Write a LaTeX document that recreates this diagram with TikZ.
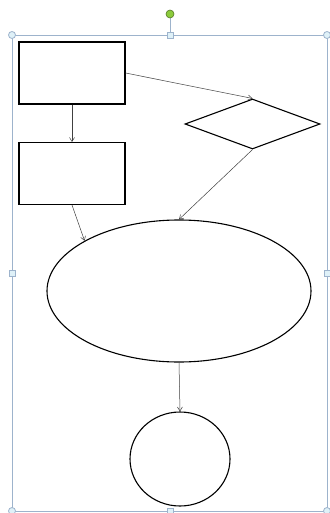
\documentclass[tikz,border=0pt]{standalone}
\usepackage{xcolor}
\usetikzlibrary{shapes.geometric,arrows.meta}

\definecolor{framecol}{HTML}{9DB3CC}
\definecolor{handlefill}{HTML}{DFF1F8}
\definecolor{rotgreen}{HTML}{8CCB3C}

\tikzset{
  box/.style={draw=black, line width=1.1pt, rectangle, minimum width=106pt, minimum height=62pt, inner sep=0pt},
  choice/.style={draw=black, line width=1.1pt, diamond, minimum width=135pt, minimum height=50pt, inner sep=0pt},
  blob/.style={draw=black, line width=1.1pt, ellipse, inner sep=0pt},
  link/.style={draw=black!75, line width=0.5pt, -{Straight Barb[length=4pt,width=5pt]}},
  cornerhandle/.style={draw=framecol, fill=handlefill, circle, minimum size=7pt, inner sep=0pt, line width=0.8pt},
  sidehandle/.style={draw=framecol, fill=handlefill, rectangle, minimum size=6pt, inner sep=0pt, line width=0.8pt}
}

\begin{document}
\begin{tikzpicture}[x=1pt, y=-1pt]
\useasboundingbox[fill=white] (0,0) rectangle (329,513);

% selection frame
\draw[framecol, line width=0.8pt] (12,35) rectangle (327,511);
\draw[framecol, line width=0.8pt] (170,14) -- (170,35);
\node[cornerhandle] (hnw) at (12,35) {};
\node[cornerhandle] (hne) at (327,35) {};
\node[cornerhandle] (hsw) at (12,511) {};
\node[cornerhandle] (hse) at (327,511) {};
\node[sidehandle] (hn) at (170,35) {};
\node[sidehandle] (hw) at (12,273) {};
\node[sidehandle] (he) at (327,273) {};
\node[sidehandle] (hs) at (170,511) {};
\node[draw=rotgreen!60!black, fill=rotgreen, circle, minimum size=8pt, inner sep=0pt, line width=0.6pt] (hrot) at (170,14) {};

% shapes
\node[box] (start) at (72,73) {};
\node[box] (step) at (72,173.5) {};
\node[choice] (test) at (252.5,124) {};
\node[blob, minimum width=264pt, minimum height=142pt] (merge) at (179,291) {};
\node[blob, minimum width=100pt, minimum height=94pt] (stop) at (180,459) {};

% connectors
\draw[link] (start.east) -- (test.north);
\draw[link] (start.south) -- (step.north);
\draw[link] (step.south) -- (merge.152);
\draw[link] (test.south) -- (merge.north);
\draw[link] (merge.south) -- (stop.north);
\end{tikzpicture}
\end{document}
